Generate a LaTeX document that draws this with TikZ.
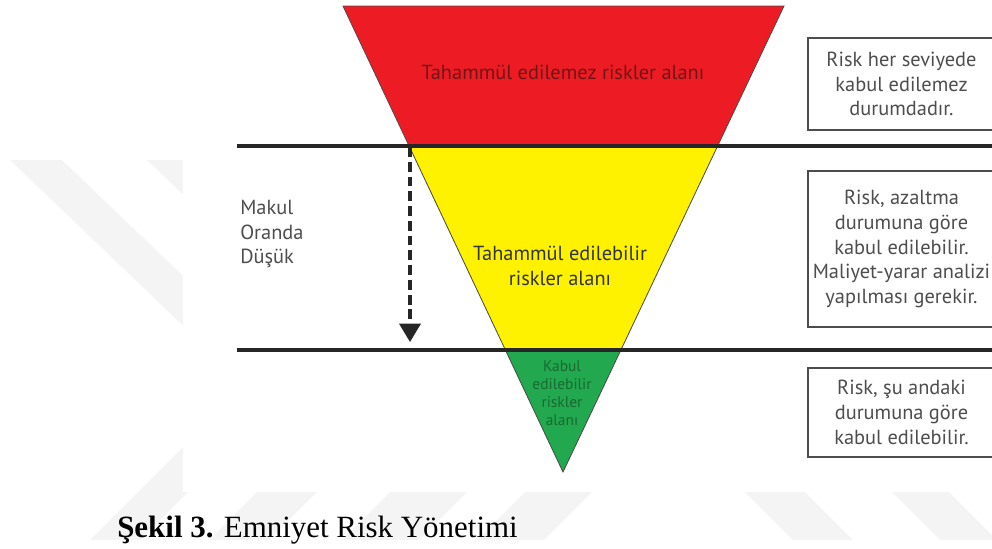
\documentclass[tikz,border=0pt]{standalone}
\usepackage{fontspec}
\setmainfont{Liberation Serif}
\newfontfamily\myriad{PT Sans}
\usetikzlibrary{arrows.meta}
\definecolor{rkred}{RGB}{237,28,36}
\definecolor{rkyellow}{RGB}{255,242,0}
\definecolor{rkgreen}{RGB}{34,168,78}
\definecolor{rkgray}{RGB}{77,77,77}
\definecolor{rkdarkred}{RGB}{110,22,22}
\definecolor{rkdarkgreen}{RGB}{25,105,50}
\definecolor{wmark}{RGB}{244,244,244}
\tikzset{
  riskbox/.style={draw=rkgray,line width=1pt,minimum width=4.675cm,inner sep=0pt,
    align=center,text=rkgray,font=\myriad\fontsize{14.5}{17.5}\selectfont},
  zonetext/.style={align=center,font=\myriad\fontsize{14.5}{17.5}\selectfont},
  level/.style={line width=2.2pt,black!85}
}

\begin{document}
\begin{tikzpicture}[x=0.025cm,y=-0.025cm,>={Triangle[width=15pt,length=13pt]}]
  \useasboundingbox (0,0) rectangle (992,548);
  % watermark stripes
  \fill[wmark] (10,160) -- (62,160) -- (250,340) -- (198,340) -- cycle;
  \fill[wmark] (147,160) -- (199,160) -- (300,257) -- (248,257) -- cycle;
  \fill[wmark] (90,540) -- (140,540) -- (240,440) -- (190,440) -- cycle;
  \fill[wmark] (209,540) -- (269,540) -- (317,492) -- (257,492) -- cycle;
  \fill[wmark] (342,540) -- (419,540) -- (467,492) -- (390,492) -- cycle;
  \fill[wmark] (477,540) -- (544,540) -- (592,492) -- (525,492) -- cycle;
  \fill[wmark] (745,492) -- (805,492) -- (853,540) -- (793,540) -- cycle;
  \fill[wmark] (892,492) -- (949,492) -- (997,540) -- (940,540) -- cycle;
  \fill[white] (183,0) rectangle (995,492);
  \coordinate (A) at (343,6);
  \coordinate (B) at (784,6);
  \coordinate (C) at (563,472);
  % risk zones
  \begin{scope}
    \clip (A) -- (B) -- (C) -- cycle;
    \fill[rkred] (300,0) rectangle (800,146);
    \fill[rkyellow] (300,146) rectangle (800,350);
    \fill[rkgreen] (300,350) rectangle (800,480);
  \end{scope}
  \draw[line width=0.6pt,black!70] (A) -- (B) -- (C) -- cycle;
  % levels
  \coordinate (L1) at (237,146);
  \coordinate (R1) at (995,146);
  \coordinate (L2) at (237,350);
  \coordinate (R2) at (995,350);
  \draw[level] (L1) -- (R1);
  \draw[level] (L2) -- (R2);
  \coordinate (S) at (410,147);
  \coordinate (E) at (410,342);
  \draw[->,line width=2.2pt,black!85,dash pattern=on 7pt off 3.5pt] (S) -- (E);
  % labels
  \node[zonetext,text=rkdarkred] (red) at (563,72) {Tahammül edilemez riskler alanı};
  \node[zonetext,text=black!80] (yellow) at (560,266) {Tahammül edilebilir\\riskler alanı};
  \node[zonetext,text=rkdarkgreen,font=\myriad\fontsize{11}{12.8}\selectfont] (green) at (562,393) {Kabul\\edilebilir\\riskler\\alanı};
  \node[zonetext,align=left,anchor=west,text=rkgray,inner sep=0pt] (makul) at (240,234) {Makul\\Oranda\\Düşük};
  \node[riskbox,minimum height=2.3cm] (b1) at (901.5,84) {Risk her seviyede\\kabul edilemez\\durumdadır.};
  \node[riskbox,minimum height=3.9cm] (b2) at (901.5,249) {Risk, azaltma\\durumuna göre\\kabul edilebilir.\\Maliyet-yarar analizi\\yapılması gerekir.};
  \node[riskbox,minimum height=2.225cm] (b3) at (901.5,412.5) {Risk, şu andaki\\durumuna göre\\kabul edilebilir.};
  \node[anchor=base west,inner sep=0pt,font=\fontsize{22}{26}\selectfont] (cap) at (117,537) {\textbf{Şekil 3.} Emniyet Risk Yönetimi};
\end{tikzpicture}
\end{document}
